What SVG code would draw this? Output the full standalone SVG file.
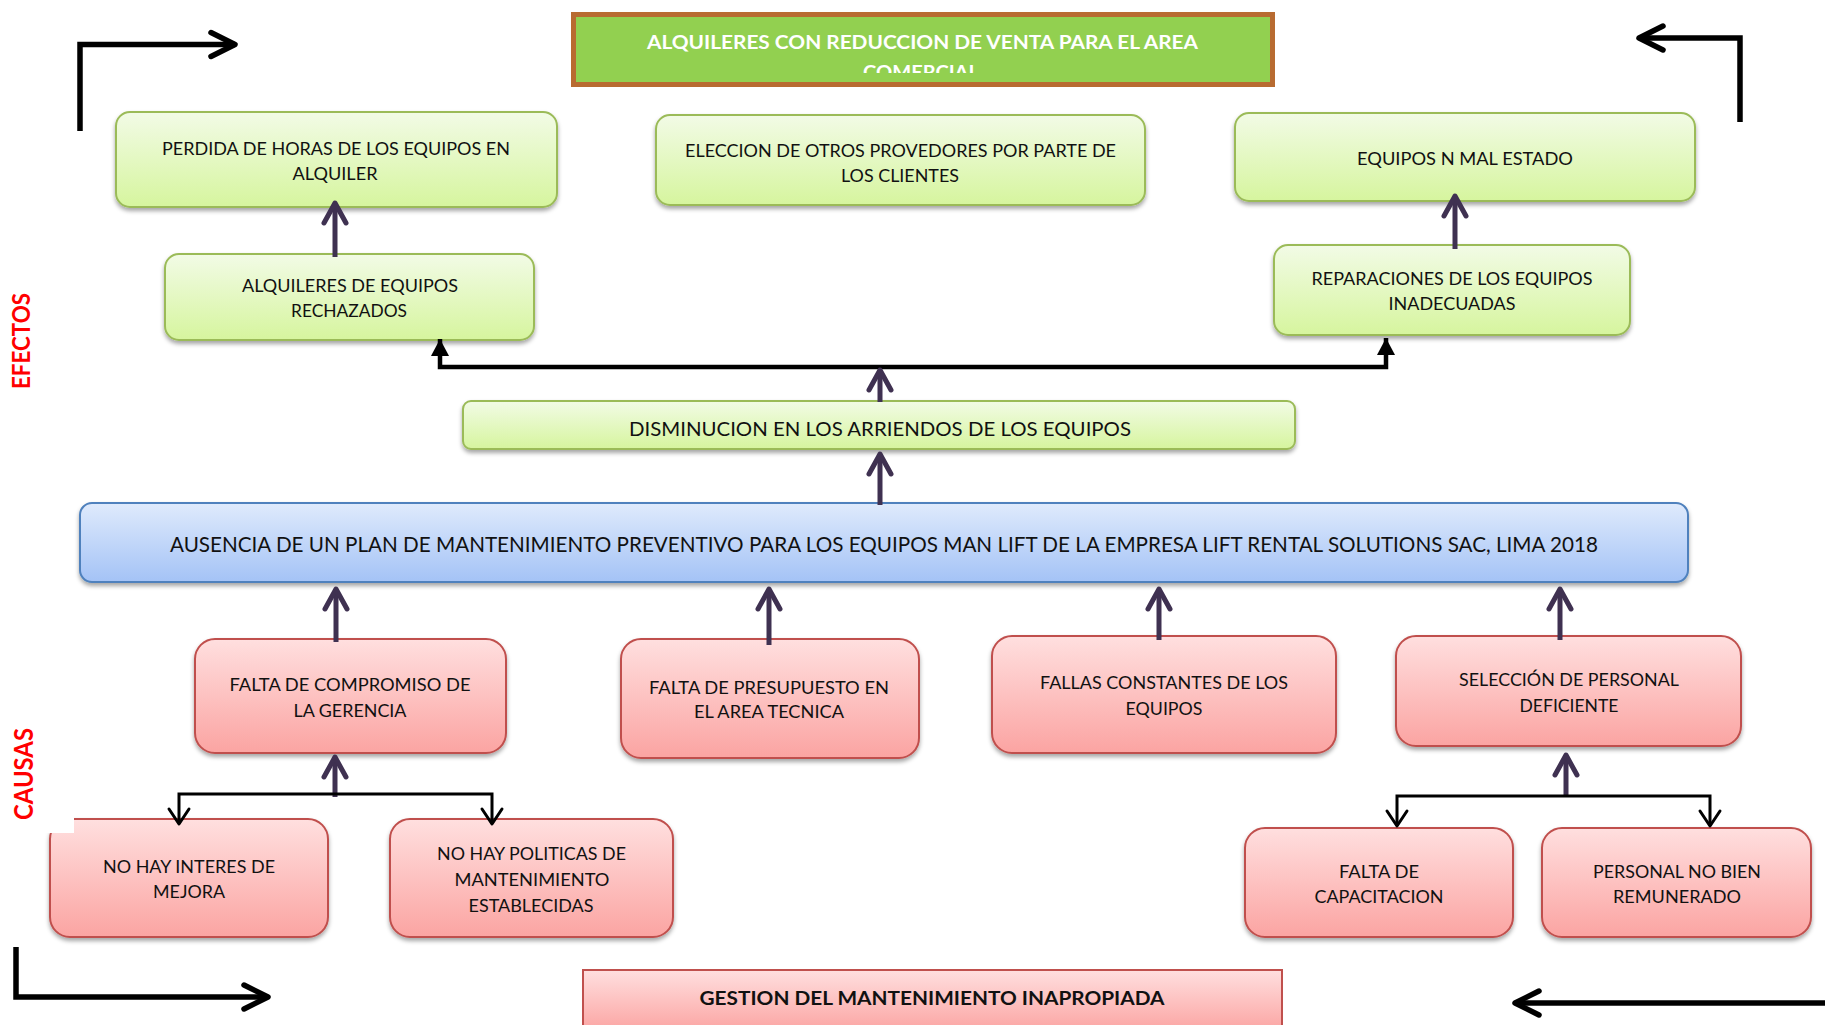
<svg xmlns="http://www.w3.org/2000/svg" width="1825" height="1025" viewBox="0 0 1825 1025">
<defs>
<style>
.t{font-family:Lato,"Open Sans","Liberation Sans",sans-serif;font-size:17px;fill:#111;text-anchor:middle}
.tw{font-family:Lato,"Open Sans","Liberation Sans",sans-serif;font-size:19.5px;font-weight:bold;fill:#fff;text-anchor:middle}
.lab{font-family:Lato,"Open Sans","Liberation Sans",sans-serif;font-weight:bold;fill:#FF0000;text-anchor:middle}
.gr{fill:url(#gGreen);stroke:#9BBB59;stroke-width:2;filter:url(#sh)}
.pk{fill:url(#gPink);stroke:#C0504D;stroke-width:2;filter:url(#sh)}
.bl{fill:url(#gBlue);stroke:#4F81BD;stroke-width:2;filter:url(#sh)}
.pa{fill:none;stroke:#3F3151;stroke-width:5;marker-end:url(#mp)}
.bk{fill:none;stroke:#000;stroke-width:5.5;marker-end:url(#mb)}
.br{fill:none;stroke:#000;stroke-width:3;marker-start:url(#ms);marker-end:url(#ms)}
</style>
<linearGradient id="gGreen" x1="0" y1="0" x2="0" y2="1"><stop offset="0" stop-color="#F2FBE6"/><stop offset="1" stop-color="#D6F59E"/></linearGradient>
<linearGradient id="gPink" x1="0" y1="0" x2="0" y2="1"><stop offset="0" stop-color="#FFDFDF"/><stop offset="1" stop-color="#FBA4A2"/></linearGradient>
<linearGradient id="gBlue" x1="0" y1="0" x2="0" y2="1"><stop offset="0" stop-color="#DFEAFC"/><stop offset="1" stop-color="#A4C3F6"/></linearGradient>
<filter id="sh" x="-5%" y="-10%" width="110%" height="135%"><feDropShadow dx="0" dy="3" stdDeviation="2" flood-color="#000" flood-opacity="0.35"/></filter>
<clipPath id="titleClip"><rect x="574" y="14" width="698" height="59"/></clipPath>
<marker id="mp" markerUnits="userSpaceOnUse" markerWidth="34" markerHeight="34" viewBox="-27 -17 34 34" refX="0" refY="0" orient="auto"><path d="M-20,-11 L0,0 L-20,11" fill="none" stroke="#3F3151" stroke-width="5" stroke-linecap="round" stroke-linejoin="round"/></marker>
<marker id="mb" markerUnits="userSpaceOnUse" markerWidth="40" markerHeight="40" viewBox="-32 -20 40 40" refX="0" refY="0" orient="auto"><path d="M-24,-12 L0,0 L-24,12" fill="none" stroke="#000" stroke-width="5.5" stroke-linecap="round" stroke-linejoin="round"/></marker>
<marker id="ms" markerUnits="userSpaceOnUse" markerWidth="30" markerHeight="30" viewBox="-22 -15 30 30" refX="0" refY="0" orient="auto-start-reverse"><path d="M-15,-10 L0,0 L-15,10" fill="none" stroke="#000" stroke-width="3" stroke-linecap="round" stroke-linejoin="round"/></marker>
<marker id="mt" markerUnits="userSpaceOnUse" markerWidth="26" markerHeight="26" viewBox="-20 -13 26 26" refX="0" refY="0" orient="auto-start-reverse"><path d="M-17,-9 L0,0 L-17,9 Z" fill="#000"/></marker>
</defs>
<rect width="1825" height="1025" fill="#fff"/>

<g id="title">
<rect x="573.5" y="14.5" width="699" height="70" fill="#92D050" stroke="#B86B31" stroke-width="5"/>
<g clip-path="url(#titleClip)">
<text class="tw" x="922.5" y="49" textLength="551" lengthAdjust="spacingAndGlyphs">ALQUILERES CON REDUCCION DE VENTA PARA EL AREA</text>
<text class="tw" x="921" y="79" textLength="116" lengthAdjust="spacingAndGlyphs">COMERCIAL</text>
</g>
</g>

<g id="perdida">
<rect class="gr" x="116" y="112" width="441" height="95" rx="14"/>
<text class="t" x="336" y="155" textLength="348" lengthAdjust="spacingAndGlyphs">PERDIDA DE HORAS DE LOS EQUIPOS EN</text>
<text class="t" x="335" y="180" textLength="85" lengthAdjust="spacingAndGlyphs">ALQUILER</text>
</g>

<g id="eleccion">
<rect class="gr" x="656" y="115" width="489" height="90" rx="14"/>
<text class="t" x="900.5" y="157" textLength="431" lengthAdjust="spacingAndGlyphs">ELECCION DE OTROS PROVEDORES POR PARTE DE</text>
<text class="t" x="900" y="182" textLength="118" lengthAdjust="spacingAndGlyphs">LOS CLIENTES</text>
</g>

<g id="equipos-mal-estado">
<rect class="gr" x="1235" y="113" width="460" height="88" rx="14"/>
<text class="t" x="1465" y="165" textLength="216" lengthAdjust="spacingAndGlyphs">EQUIPOS N MAL ESTADO</text>
</g>

<g id="alquileres-rechazados">
<rect class="gr" x="165" y="254" width="369" height="86" rx="14"/>
<text class="t" x="350" y="292" textLength="216" lengthAdjust="spacingAndGlyphs">ALQUILERES DE EQUIPOS</text>
<text class="t" x="349" y="317" textLength="116" lengthAdjust="spacingAndGlyphs">RECHAZADOS</text>
</g>

<g id="reparaciones">
<rect class="gr" x="1274" y="245" width="356" height="90" rx="14"/>
<text class="t" x="1452" y="285" textLength="281" lengthAdjust="spacingAndGlyphs">REPARACIONES DE LOS EQUIPOS</text>
<text class="t" x="1452" y="310" textLength="127" lengthAdjust="spacingAndGlyphs">INADECUADAS</text>
</g>

<g id="disminucion">
<rect class="gr" x="463" y="401" width="832" height="48" rx="8"/>
<text class="t" x="880" y="436" style="font-size:18.5px" textLength="502" lengthAdjust="spacingAndGlyphs">DISMINUCION EN LOS ARRIENDOS DE LOS EQUIPOS</text>
</g>

<g id="ausencia">
<rect class="bl" x="80" y="503" width="1608" height="79" rx="12"/>
<text class="t" x="884" y="552" style="font-size:20.5px" textLength="1428" lengthAdjust="spacingAndGlyphs">AUSENCIA DE UN PLAN DE MANTENIMIENTO PREVENTIVO PARA LOS EQUIPOS MAN LIFT DE LA EMPRESA LIFT RENTAL SOLUTIONS SAC, LIMA 2018</text>
</g>

<g id="compromiso">
<rect class="pk" x="195" y="639" width="311" height="114" rx="20"/>
<text class="t" x="350" y="691" textLength="241" lengthAdjust="spacingAndGlyphs">FALTA DE COMPROMISO DE</text>
<text class="t" x="350" y="717" textLength="113" lengthAdjust="spacingAndGlyphs">LA GERENCIA</text>
</g>

<g id="presupuesto">
<rect class="pk" x="621" y="639" width="298" height="119" rx="20"/>
<text class="t" x="769" y="694" textLength="240" lengthAdjust="spacingAndGlyphs">FALTA DE PRESUPUESTO EN</text>
<text class="t" x="769" y="718" textLength="150" lengthAdjust="spacingAndGlyphs">EL AREA TECNICA</text>
</g>

<g id="fallas">
<rect class="pk" x="992" y="636" width="344" height="117" rx="20"/>
<text class="t" x="1164" y="689" textLength="248" lengthAdjust="spacingAndGlyphs">FALLAS CONSTANTES DE LOS</text>
<text class="t" x="1164" y="715" textLength="77" lengthAdjust="spacingAndGlyphs">EQUIPOS</text>
</g>

<g id="seleccion">
<rect class="pk" x="1396" y="636" width="345" height="110" rx="20"/>
<text class="t" x="1569" y="686" textLength="220" lengthAdjust="spacingAndGlyphs">SELECCIÓN DE PERSONAL</text>
<text class="t" x="1569" y="712" textLength="99" lengthAdjust="spacingAndGlyphs">DEFICIENTE</text>
</g>

<g id="interes">
<rect class="pk" x="50" y="819" width="278" height="118" rx="20"/>
<text class="t" x="189" y="873" textLength="172" lengthAdjust="spacingAndGlyphs">NO HAY INTERES DE</text>
<text class="t" x="189" y="898" textLength="72" lengthAdjust="spacingAndGlyphs">MEJORA</text>
</g>

<g id="politicas">
<rect class="pk" x="390" y="819" width="283" height="118" rx="20"/>
<text class="t" x="531.5" y="860" textLength="189" lengthAdjust="spacingAndGlyphs">NO HAY POLITICAS DE</text>
<text class="t" x="532" y="886" textLength="155" lengthAdjust="spacingAndGlyphs">MANTENIMIENTO</text>
<text class="t" x="531" y="912" textLength="125" lengthAdjust="spacingAndGlyphs">ESTABLECIDAS</text>
</g>

<g id="capacitacion">
<rect class="pk" x="1245" y="828" width="268" height="109" rx="20"/>
<text class="t" x="1379" y="878" textLength="80" lengthAdjust="spacingAndGlyphs">FALTA DE</text>
<text class="t" x="1379" y="903" textLength="129" lengthAdjust="spacingAndGlyphs">CAPACITACION</text>
</g>

<g id="remunerado">
<rect class="pk" x="1542" y="828" width="269" height="109" rx="20"/>
<text class="t" x="1677" y="878" textLength="168" lengthAdjust="spacingAndGlyphs">PERSONAL NO BIEN</text>
<text class="t" x="1677" y="903" textLength="128" lengthAdjust="spacingAndGlyphs">REMUNERADO</text>
</g>

<g id="gestion">
<rect x="583" y="970" width="699" height="62" fill="url(#gPink)" stroke="#C0504D" stroke-width="2"/>
<text class="t" x="932" y="1005" style="font-weight:bold;font-size:18px" textLength="465" lengthAdjust="spacingAndGlyphs">GESTION DEL MANTENIMIENTO INAPROPIADA</text>
</g>

<g id="labels">
<text class="lab" transform="translate(30,341) rotate(-90)" style="font-size:24px" textLength="96" lengthAdjust="spacingAndGlyphs">EFECTOS</text>
<rect x="0" y="688" width="74" height="145" fill="#fff"/>
<text class="lab" transform="translate(33,774) rotate(-90)" style="font-size:27px" textLength="92" lengthAdjust="spacingAndGlyphs">CAUSAS</text>
</g>

<g id="connectors">
<path class="pa" d="M335,257 L335,203"/>
<path class="pa" d="M1455,249 L1455,196"/>
<path d="M440,339 L440,367 L1386,367 L1386,338" fill="none" stroke="#000" stroke-width="4.5" marker-start="url(#mt)" marker-end="url(#mt)"/>
<path class="pa" d="M880,402 L880,370"/>
<path class="pa" d="M880,505 L880,454"/>
<path class="pa" d="M336,642 L336,589"/>
<path class="pa" d="M769,645 L769,589"/>
<path class="pa" d="M1159,640 L1159,589"/>
<path class="pa" d="M1560,640 L1560,589"/>
<path class="pa" d="M335,797 L335,757"/>
<path class="pa" d="M1566,796 L1566,755"/>
<path class="br" d="M179,824 L179,794 L492,794 L492,824"/>
<path class="br" d="M1397,826 L1397,796 L1710,796 L1710,826"/>
<path class="bk" d="M80,131 L80,44.5 L235,44.5"/>
<path class="bk" d="M1740,122 L1740,38 L1639,38"/>
<path class="bk" d="M16,947 L16,997 L268,997"/>
<path class="bk" d="M1830,1003 L1515,1003"/>
</g>
</svg>
